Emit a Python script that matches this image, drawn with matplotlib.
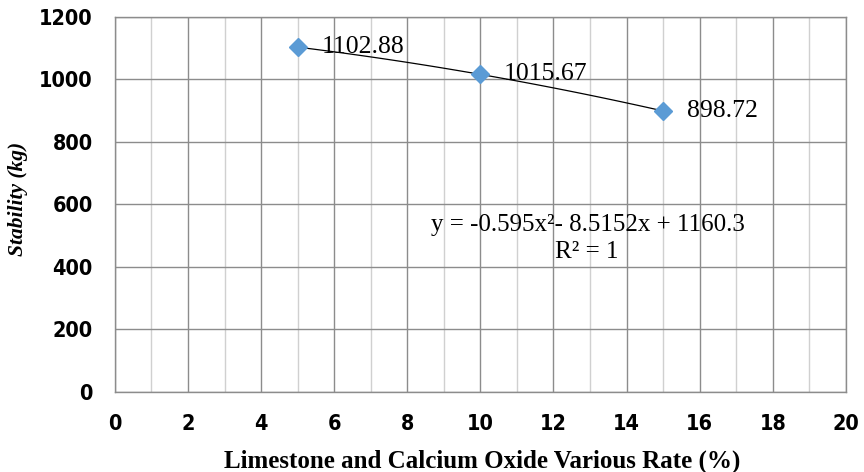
import numpy as np
import matplotlib
matplotlib.use('Agg')
import matplotlib.pyplot as plt
from matplotlib.ticker import MultipleLocator

# data
rate = [5, 10, 15]
stability = [1102.88, 1015.67, 898.72]
point_labels = ['1102.88', '1015.67', '898.72']
xticks = list(range(0, 21, 2))
yticks = list(range(0, 1201, 200))

fig = plt.figure(figsize=(8.64, 4.72), dpi=100)
ax = fig.add_axes([0.133, 0.1695, 0.846, 0.795])

ax.set_xlim(0, 20)
ax.set_ylim(0, 1200)
ax.set_xticks(xticks)
ax.set_yticks(yticks)
ax.xaxis.set_minor_locator(MultipleLocator(1))

ax.grid(which='major', color='#8c8c8c', lw=1.0)
ax.grid(which='minor', axis='x', color='#d0d0d0', lw=1.0)
ax.set_axisbelow(True)
for s in ax.spines.values():
    s.set_color('#8c8c8c')
    s.set_linewidth(1.0)
ax.tick_params(which='both', length=0)
ax.tick_params(axis='x', pad=16)
ax.tick_params(axis='y', pad=16)
for lab in ax.get_xticklabels() + ax.get_yticklabels():
    lab.set_fontfamily('DejaVu Sans')
    lab.set_fontstretch('condensed')
    lab.set_fontweight('bold')
    lab.set_fontsize(15.5)

# polynomial trendline (order 2)
coef = np.polyfit(rate, stability, 2)
xs = np.linspace(min(rate), max(rate), 100)
ax.plot(xs, np.polyval(coef, xs), color='black', lw=0.9, zorder=2)
ax.plot(rate, stability, linestyle='none', marker='D', markersize=9,
        color='#5b9bd5', zorder=3)

for x, y, t in zip(rate, stability, point_labels):
    ax.text(x + 0.65, y, t, fontfamily='Liberation Serif', fontsize=18.5,
            va='center', ha='left', zorder=4)

ax.text(12.95, 534, 'y = -0.595x²- 8.5152x + 1160.3',
        fontfamily='Liberation Serif', fontsize=18, ha='center', va='center')
ax.text(12.9, 448, 'R² = 1', fontfamily='Liberation Serif', fontsize=18,
        ha='center', va='center')

ax.set_xlabel('Limestone and Calcium Oxide Various Rate (%)',
              fontfamily='Liberation Serif', fontweight='bold', fontsize=18)
ax.xaxis.set_label_coords((482 - 115) / 731, -(461 - 392) / 375)
ax.xaxis.label.set_va('center')
ax.set_ylabel('Stability (kg)', fontfamily='Liberation Serif',
              fontweight='bold', style='italic', fontsize=15.5)
ax.yaxis.set_label_coords(-(115 - 18) / 731, (392 - 199) / 375)
ax.yaxis.label.set_va('center')

fig.savefig('out.png', dpi=100)
